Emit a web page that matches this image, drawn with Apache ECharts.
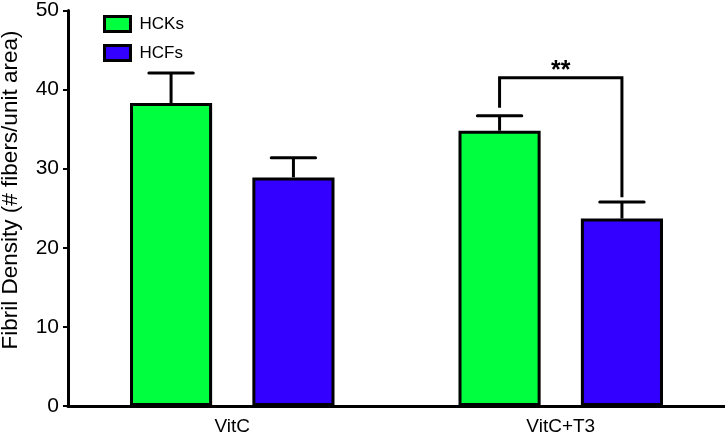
<!DOCTYPE html>
<html>
<head>
<meta charset="utf-8">
<script src="https://cdn.jsdelivr.net/npm/echarts@6/dist/echarts.min.js"></script>
<style>html,body{margin:0;padding:0;background:#fff}#c{width:725px;height:436px}</style>
</head>
<body>
<div id="c"></div>
<script>
const categories = ['VitC', 'VitC+T3'];
const seriesNames = ['HCKs', 'HCFs'];
const hckMean = [38.3, 34.8];
const hckErr = [3.8, 1.9];
const hcfMean = [28.9, 23.7];
const hcfErr = [2.5, 2.1];
const yTicks = [0, 10, 20, 30, 40, 50];
// significance bracket on VitC+T3: left leg bottom, bracket top, right leg bottom
const bracketCat = 1;
const bracketVals = [37.7, 41.5, 26.4];
const sigLabel = '**';
const yTitle = 'Fibril Density (# fibers/unit area)';

const FONT = '"Liberation Sans", Arial, Helvetica, sans-serif';
const BAR_W = 0.25, BAR_GAP = 0.49;

function offsetFor(api, sign) {
  const band = api.size([1, 0])[0];
  const bw = band * BAR_W;
  return { off: sign * bw * (1 + BAR_GAP) / 2, bw: bw };
}
function makeErr(sign) {
  return function (params, api) {
    const ci = api.value(0);
    const base = api.coord([ci, api.value(1)]);
    const top = api.coord([ci, api.value(1) + api.value(2)]);
    const o = offsetFor(api, sign);
    const x = base[0] + o.off;
    const half = o.bw * 0.27;
    return {
      type: 'group',
      children: [
        { type: 'line', shape: { x1: x, y1: base[1], x2: x, y2: top[1] }, style: { stroke: '#000', lineWidth: 3 } },
        { type: 'line', shape: { x1: x - half, y1: top[1], x2: x + half, y2: top[1] }, style: { stroke: '#000', lineWidth: 3, lineCap: 'round' } }
      ]
    };
  };
}

const chart = echarts.init(document.getElementById('c'), null, { renderer: 'canvas' });
chart.setOption({
  animation: false,
  backgroundColor: '#fff',
  textStyle: { fontFamily: FONT },
  grid: { left: 68, right: 0, top: 9, bottom: 28, containLabel: false },
  legend: {
    data: seriesNames,
    orient: 'vertical',
    left: 98,
    top: 10,
    itemWidth: 26,
    itemHeight: 15,
    itemGap: 11,
    icon: 'rect',
    itemStyle: { borderColor: '#000', borderWidth: 3 },
    textStyle: { fontSize: 17, color: '#000', fontFamily: FONT, padding: [0, 0, 0, 4] }
  },
  xAxis: {
    type: 'category',
    data: categories,
    axisLine: { lineStyle: { color: '#000', width: 3 } },
    axisTick: { alignWithLabel: true, length: 6, lineStyle: { color: '#000', width: 2 } },
    axisLabel: { fontSize: 19, color: '#000', margin: 11, fontFamily: FONT },
    splitLine: { show: false }
  },
  yAxis: {
    type: 'value',
    min: yTicks[0],
    max: yTicks[yTicks.length - 1],
    interval: 10,
    axisLine: { show: true, lineStyle: { color: '#000', width: 3 } },
    axisTick: { show: true, length: 5, lineStyle: { color: '#000', width: 2 } },
    axisLabel: { fontSize: 21, color: '#000', margin: 9, fontFamily: FONT },
    splitLine: { show: false }
  },
  graphic: [{
    type: 'text',
    x: 11, y: 190,
    rotation: Math.PI / 2,
    style: { text: yTitle, font: '22.5px ' + FONT, fill: '#000', textAlign: 'center', textVerticalAlign: 'middle' }
  }],
  series: [
    {
      name: seriesNames[0], type: 'bar', data: hckMean,
      barWidth: (BAR_W * 100) + '%', barGap: (BAR_GAP * 100) + '%',
      itemStyle: { color: '#00FF3F', borderColor: '#000', borderWidth: 3 }
    },
    {
      name: seriesNames[1], type: 'bar', data: hcfMean,
      barWidth: (BAR_W * 100) + '%', barGap: (BAR_GAP * 100) + '%',
      itemStyle: { color: '#3300FF', borderColor: '#000', borderWidth: 3 }
    },
    {
      type: 'custom', name: 'errHCK', renderItem: makeErr(-1), z: 5,
      data: categories.map((c, i) => [i, hckMean[i], hckErr[i]]), encode: { x: 0, y: 1 }
    },
    {
      type: 'custom', name: 'errHCF', renderItem: makeErr(1), z: 5,
      data: categories.map((c, i) => [i, hcfMean[i], hcfErr[i]]), encode: { x: 0, y: 1 }
    },
    {
      type: 'custom', name: 'sig', z: 5,
      data: [[bracketCat, bracketVals[0], bracketVals[1], bracketVals[2]]],
      encode: { x: 0, y: 2 },
      renderItem: function (params, api) {
        const ci = api.value(0);
        const l = offsetFor(api, -1), r = offsetFor(api, 1);
        const c = api.coord([ci, api.value(2)]);
        const yl = api.coord([ci, api.value(1)])[1];
        const yr = api.coord([ci, api.value(3)])[1];
        const xl = c[0] + l.off, xr = c[0] + r.off;
        return {
          type: 'group',
          children: [
            { type: 'polyline', shape: { points: [[xl, yl], [xl, c[1]], [xr, c[1]], [xr, yr]] }, style: { stroke: '#000', lineWidth: 3, fill: null } },
            { type: 'text', x: (xl + xr) / 2, y: c[1] + 6, style: { text: sigLabel, font: 'bold 25px ' + FONT, fill: '#000', textAlign: 'center', textVerticalAlign: 'bottom' } }
          ]
        };
      }
    }
  ]
});
</script>
</body>
</html>
